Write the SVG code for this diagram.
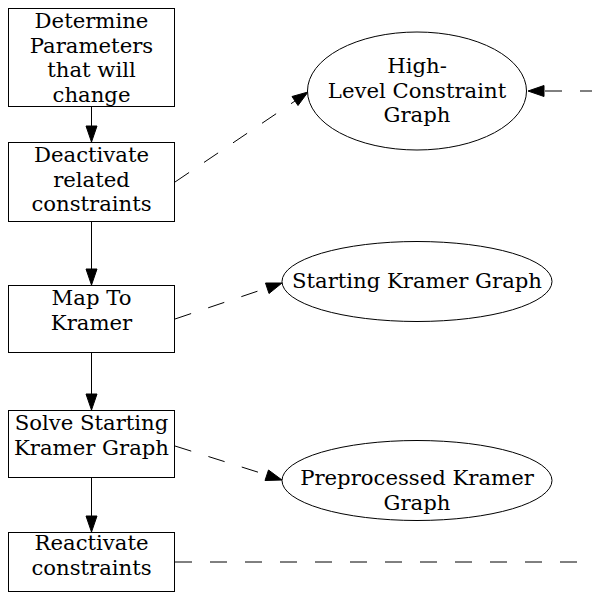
<svg xmlns="http://www.w3.org/2000/svg" width="592" height="595" viewBox="0 0 592 595">
  <style>
    .box { fill: #ffffff; stroke: #000000; stroke-width: 1; }
    .oval { fill: #ffffff; stroke: #000000; stroke-width: 1; }
    .label { font-family: "DejaVu Serif", serif; font-size: 21.2px; fill: #000000; text-anchor: middle; }
    .flow { stroke: #000000; stroke-width: 1; fill: none; }
    .data { stroke: #000000; stroke-width: 1; fill: none; stroke-dasharray: 17,18; }
    .head { fill: #000000; stroke: #000000; stroke-width: 1; }
  </style>
  <rect width="592" height="595" fill="#ffffff"/>

  <g id="connectors">
    <!-- solid flow between steps -->
    <line class="flow" x1="91.5" y1="107" x2="91.5" y2="126"/>
    <polygon class="head" points="86,126 97,126 91.5,142"/>
    <line class="flow" x1="91.5" y1="222" x2="91.5" y2="269"/>
    <polygon class="head" points="86,269 97,269 91.5,285"/>
    <line class="flow" x1="91.5" y1="353" x2="91.5" y2="394"/>
    <polygon class="head" points="86,394 97,394 91.5,410"/>
    <line class="flow" x1="91.5" y1="478" x2="91.5" y2="516"/>
    <polygon class="head" points="86,516 97,516 91.5,532"/>

    <!-- dashed data edges -->
    <line class="data" x1="175" y1="182" x2="295" y2="101"/>
    <polygon class="head" points="292,96.5 298,105.5 308,92"/>
    <line class="data" x1="175" y1="319" x2="267" y2="288"/>
    <polygon class="head" points="265.5,283 269,293.5 282,283"/>
    <line class="data" x1="175" y1="446" x2="267" y2="475"/>
    <polygon class="head" points="268.5,470 265,480.5 282,480"/>
    <line class="data" x1="175" y1="562" x2="600" y2="562"/>
    <line class="data" x1="545" y1="91" x2="600" y2="91"/>
    <polygon class="head" points="544,85.5 544,96.5 528,91"/>
  </g>

  <g id="determine">
    <rect class="box" x="8.5" y="8.5" width="166" height="98"/>
    <text class="label" x="91.5" y="28">Determine</text>
    <text class="label" x="91.5" y="52.5">Parameters</text>
    <text class="label" x="91.5" y="77">that will</text>
    <text class="label" x="91.5" y="101.5">change</text>
  </g>

  <g id="deactivate">
    <rect class="box" x="8.5" y="142.5" width="166" height="79"/>
    <text class="label" x="91.5" y="162">Deactivate</text>
    <text class="label" x="91.5" y="186.5">related</text>
    <text class="label" x="91.5" y="211">constraints</text>
  </g>

  <g id="map">
    <rect class="box" x="8.5" y="285.5" width="166" height="67"/>
    <text class="label" x="91.5" y="305">Map To</text>
    <text class="label" x="91.5" y="329.5">Kramer</text>
  </g>

  <g id="solve">
    <rect class="box" x="8.5" y="410.5" width="166" height="67"/>
    <text class="label" x="91.5" y="430">Solve Starting</text>
    <text class="label" x="91.5" y="454.5">Kramer Graph</text>
  </g>

  <g id="reactivate">
    <rect class="box" x="8.5" y="532.5" width="166" height="59"/>
    <text class="label" x="91.5" y="550">Reactivate</text>
    <text class="label" x="91.5" y="574.5">constraints</text>
  </g>

  <g id="high-level">
    <ellipse class="oval" cx="417" cy="91" rx="109.5" ry="59"/>
    <text class="label" x="417" y="73">High-</text>
    <text class="label" x="417" y="97.5">Level Constraint</text>
    <text class="label" x="417" y="122">Graph</text>
  </g>

  <g id="starting">
    <ellipse class="oval" cx="417" cy="281.5" rx="135" ry="40"/>
    <text class="label" x="417" y="288">Starting Kramer Graph</text>
  </g>

  <g id="preprocessed">
    <ellipse class="oval" cx="417" cy="480.5" rx="135" ry="40"/>
    <text class="label" x="417" y="485">Preprocessed Kramer</text>
    <text class="label" x="417" y="509.5">Graph</text>
  </g>
</svg>
